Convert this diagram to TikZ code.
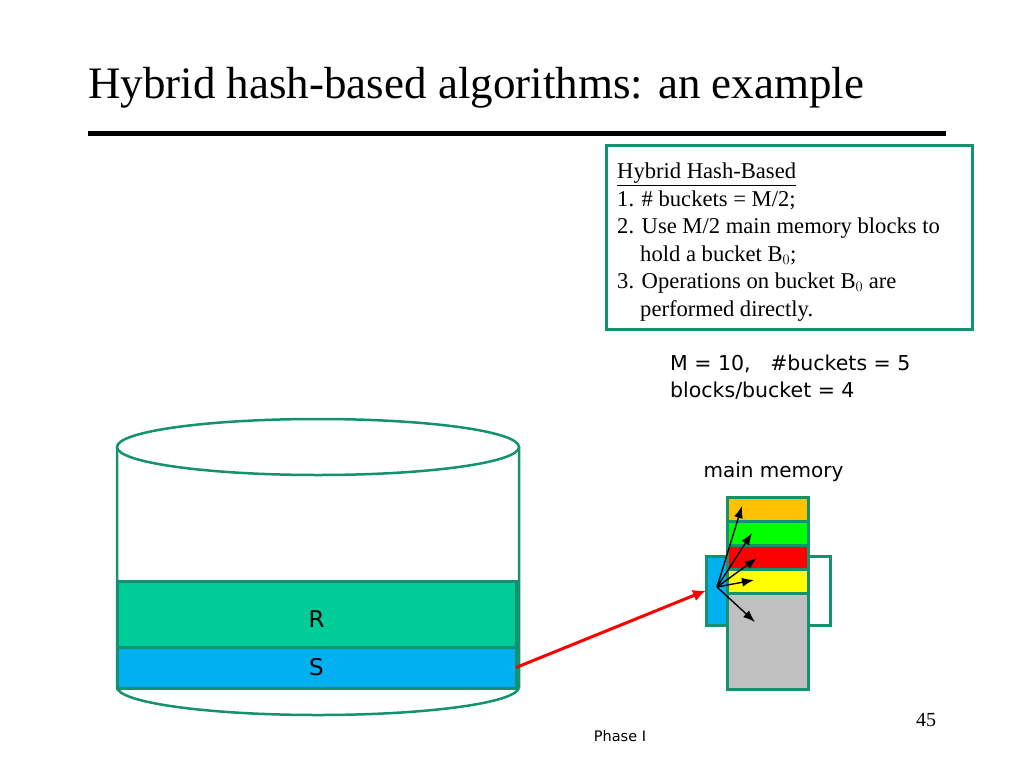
\documentclass[tikz,border=0pt]{standalone}
\usepackage{fontspec}
\setmainfont{Liberation Serif}
\newfontfamily\slidesans{DejaVu Sans}
\usepackage{xcolor}
\usetikzlibrary{arrows.meta,shapes,positioning}

\definecolor{rimgreen}{RGB}{20,145,110}
\definecolor{relRfill}{RGB}{0,204,153}
\definecolor{relSfill}{RGB}{0,176,240}
\definecolor{memorange}{RGB}{255,192,0}
\definecolor{memgreen}{RGB}{0,255,0}
\definecolor{memred}{RGB}{255,0,0}
\definecolor{memyellow}{RGB}{255,255,0}
\definecolor{memgrey}{RGB}{192,192,192}

\tikzset{
  rim/.style={draw=rimgreen, line width=3pt, inner sep=0pt, outer sep=0pt},
  slab/.style={rim, anchor=north west, minimum width=399pt},
  memblock/.style={rim, anchor=north west, minimum width=81pt, minimum height=24pt},
  fanarrow/.style={-{Latex[length=12pt,width=9pt]}, line width=1.4pt},
}

\begin{document}
\begin{tikzpicture}[x=1pt,y=-1pt]
\useasboundingbox[fill=white] (0,0) rectangle (1024,768);

% title and rule
\node[anchor=base west, inner sep=0pt, font=\fontsize{45}{52}\selectfont] (title) at (88,98)
  {Hybrid hash-based algorithms: an example};
\draw[line width=5pt] (88,133) -- (946,133);

% the rules box
\node[rim, fill=white, anchor=north west, minimum width=366pt, minimum height=184pt] (rules) at (606,145) {};
\node[anchor=north west, inner sep=0pt, align=left, font=\fontsize{22.6}{27.5}\selectfont] (rulestext) at (617,163)
  {\underline{Hybrid Hash-Based}\\
   1. \# buckets = M/2;\\
   2. Use M/2 main memory blocks to\\
   \hspace*{23pt}hold a bucket B$_0$;\\
   3. Operations on bucket B$_0$ are\\
   \hspace*{23pt}performed directly.};

\node[anchor=north west, inner sep=0pt, align=left, font=\slidesans\fontsize{20.5}{27}\selectfont] (params) at (670,355)
  {M = 10,\ \ \ \#buckets = 5\\ blocks/bucket = 4};

% disk
\draw[rimgreen, line width=2.5pt, fill=white] (117,447) -- (117,687) arc[start angle=180, end angle=0, x radius=201, y radius=28] -- (519,447);
\draw[rimgreen, line width=2.5pt, fill=white] (318,447) ellipse[x radius=201, y radius=28];
\node[slab, fill=relRfill, minimum height=66pt, font=\slidesans\fontsize{23}{28}\selectfont] (relR) at (117,581) {\raisebox{-13pt}[0pt][0pt]{R}};
\node[slab, fill=relSfill, minimum height=41pt, font=\slidesans\fontsize{23}{28}\selectfont] (relS) at (117,647) {S};

% main memory
\node[rim, fill=relSfill, anchor=north east, minimum width=21pt, minimum height=69pt] (inbuf) at (727,556) {};
\node[rim, fill=white, anchor=north west, minimum width=22pt, minimum height=69pt] (outbuf) at (808,556) {};
\foreach \col [count=\k from 0] in {memorange,memgreen,memred,memyellow}
  \node[memblock, fill=\col] (blk\k) at (727,497+24*\k) {};
\node[memblock, fill=memgrey, minimum height=96pt] (blk4) at (727,593) {};
\node[anchor=base, inner sep=0pt, font=\slidesans\fontsize{20}{24}\selectfont] (mmlabel) at ([xshift=6pt,yshift=20pt]blk0.north) {main memory};

% hashing fan
\coordinate (hub) at (717,587);
\coordinate (tip0) at (742,506);
\coordinate (tip1) at (752,533);
\coordinate (tip2) at (757,558);
\coordinate (tip3) at (754,580);
\coordinate (tip4) at (755,622);
\foreach \k in {0,...,4}
  \draw[fanarrow] (hub) -- (tip\k);

\draw[red, line width=3pt, -{Latex[length=13pt,width=12pt]}] (relS.east) -- (inbuf.west);

% footer
\node[anchor=base, inner sep=0pt, font=\slidesans\fontsize{14.5}{18}\selectfont] (phase) at (620,741) {Phase I};
\node[anchor=base, inner sep=0pt, font=\fontsize{20}{24}\selectfont] (pageno) at (926,726) {45};
\end{tikzpicture}
\end{document}
